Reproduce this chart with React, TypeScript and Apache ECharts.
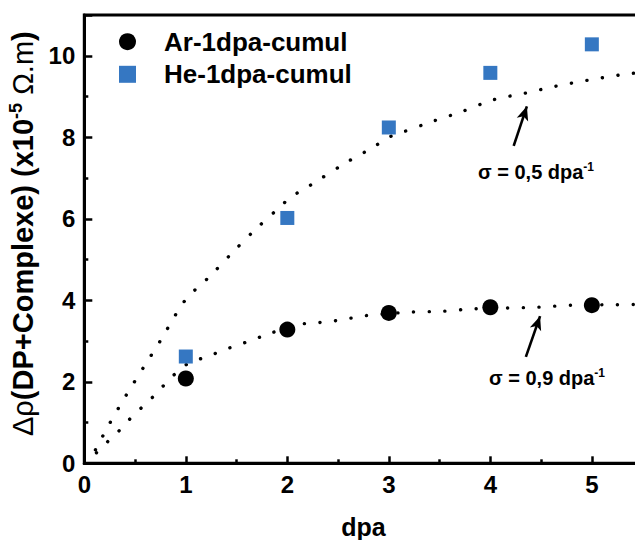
import React, { useEffect, useRef } from 'react';
import * as echarts from 'echarts';

// Measured points
const doses = [1, 2, 3, 4, 5];
const arValues = [2.08, 3.28, 3.69, 3.83, 3.88];
const heValues = [2.62, 6.02, 8.24, 9.58, 10.28];

// Dotted fit curves
const arFit: number[][] = [
  [0.12, 0.26], [0.23, 0.53], [0.34, 0.79], [0.45, 1.09], [0.57, 1.38], [0.68, 1.64],
  [0.79, 1.93], [0.91, 2.23], [1.05, 2.49], [1.21, 2.61], [1.35, 2.76], [1.5, 2.89],
  [1.65, 3.02], [1.8, 3.16], [2.09, 3.4], [2.25, 3.44], [2.42, 3.48], [2.58, 3.54],
  [2.73, 3.61], [2.89, 3.65], [3.2, 3.71], [3.52, 3.73], [3.83, 3.79], [4.16, 3.81],
  [4.47, 3.83], [4.8, 3.88], [5.18, 3.89], [5.5, 3.9],
];
const heFit: number[][] = [
  [0.11, 0.33], [0.25, 0.98], [0.41, 1.66], [0.58, 2.34], [0.75, 3.01], [0.91, 3.69],
  [1.0, 4.02], [1.11, 4.3], [1.23, 4.57], [1.44, 5.12], [1.67, 5.7], [1.91, 6.25],
  [2.04, 6.54], [2.18, 6.75], [2.32, 6.97], [2.58, 7.38], [2.85, 7.76], [2.99, 7.99],
  [3.13, 8.12], [3.42, 8.38], [3.72, 8.63], [4.03, 8.92], [4.34, 9.08], [4.64, 9.25],
  [4.96, 9.4], [5.28, 9.53], [5.5, 9.6],
];

// Annotation arrows (start -> tip), in data units
const arrowHe: number[][] = [[4.23, 7.79], [4.36, 8.76]];
const arrowAr: number[][] = [[4.35, 2.61], [4.49, 3.61]];

const seriesNames = ['Ar-1dpa-cumul', 'He-1dpa-cumul'];
const labelHe = ['σ = 0,5 dpa', '-1'];
const labelAr = ['σ = 0,9 dpa', '-1'];

const FONT = 'Liberation Sans, Arial, Helvetica, sans-serif';
const BLUE = '#3577c2';

export default function App() {
  const ref = useRef<HTMLDivElement>(null);
  useEffect(() => {
    if (!ref.current) return;
    const chart = echarts.init(ref.current, undefined, { renderer: 'svg' });
    const dotted = {
      color: '#000',
      width: 3.4,
      type: [0.1, 15.6] as number[],
      cap: 'round' as const,
    };
    const arrowLine = (pts: number[][]) => [[{ coord: pts[0] }, { coord: pts[1] }]];
    const superRich = (size: number) => ({
      a: { fontSize: size, fontWeight: 'bold', fontFamily: FONT, color: '#000' },
      s: { fontSize: size * 0.6, fontWeight: 'bold', fontFamily: FONT, color: '#000', padding: [0, 0, size * 0.55, 0] },
    });
    chart.setOption({
      animation: false,
      backgroundColor: '#fff',
      grid: {
        left: 84.3,
        top: 15,
        width: 558.3,
        height: 448.3,
        show: true,
        borderColor: '#000',
        borderWidth: 3,
        containLabel: false,
        outerBoundsMode: 'none',
      },
      legend: {
        orient: 'vertical',
        left: 119,
        top: 28.7,
        padding: 0,
        itemGap: 6.6,
        itemWidth: 17,
        itemHeight: 17,
        data: [
          { name: seriesNames[0], icon: 'circle', itemStyle: { color: '#000', opacity: 1 } },
          { name: seriesNames[1], icon: 'rect', itemStyle: { color: BLUE, opacity: 1 } },
        ],
        textStyle: {
          fontFamily: FONT,
          fontWeight: 'bold',
          fontSize: 26,
          color: '#000',
          lineHeight: 26,
          padding: [0, 0, 0, 23],
        },
      },
      xAxis: {
        type: 'value',
        min: 0,
        max: 5.5,
        interval: 1,
        name: 'dpa',
        nameLocation: 'middle',
        nameGap: 51,
        nameTextStyle: { fontFamily: FONT, fontWeight: 'bold', fontSize: 25, color: '#000' },
        axisLine: { show: true, onZero: false, lineStyle: { color: '#000', width: 3 } },
        axisTick: { show: true, inside: true, length: 7, lineStyle: { color: '#000', width: 2.5 } },
        minorTick: { show: true, splitNumber: 2, length: 4, lineStyle: { color: '#000', width: 2.5 } },
        splitLine: { show: false },
        axisLabel: {
          showMaxLabel: false,
          margin: 9,
          fontFamily: FONT,
          fontWeight: 'bold',
          fontSize: 24,
          color: '#000',
        },
      },
      yAxis: {
        type: 'value',
        min: 0,
        max: 11,
        interval: 2,
        name: '{g|Δρ}{b|(DP+Complexe) (x10}{s|-5}{g| Ω.m}{b|)}',
        nameLocation: 'middle',
        nameGap: 35,
        nameTextStyle: {
          color: '#000',
          padding: [0, 0, 0, 11],
          rich: {
            g: { fontFamily: FONT, fontWeight: 'normal', fontSize: 29, color: '#000' },
            b: { fontFamily: FONT, fontWeight: 'bold', fontSize: 29, color: '#000' },
            s: { fontFamily: FONT, fontWeight: 'bold', fontSize: 18, color: '#000', padding: [0, 0, 15, 0] },
          },
        },
        axisLine: { show: true, onZero: false, lineStyle: { color: '#000', width: 3 } },
        axisTick: { show: true, inside: true, length: 8, lineStyle: { color: '#000', width: 2.5 } },
        minorTick: { show: true, splitNumber: 2, length: 4, lineStyle: { color: '#000', width: 2.5 } },
        splitLine: { show: false },
        axisLabel: {
          showMaxLabel: false,
          margin: 9,
          fontFamily: FONT,
          fontWeight: 'bold',
          fontSize: 24,
          color: '#000',
        },
      },
      series: [
        {
          name: 'fitHe',
          type: 'line',
          data: heFit,
          smooth: 0.3,
          showSymbol: false,
          silent: true,
          lineStyle: dotted,
          markLine: {
            silent: true,
            symbol: ['none', 'arrow'],
            symbolSize: [9, 14],
            label: { show: false },
            lineStyle: { color: '#000', width: 2.6, type: 'solid' },
            data: arrowLine(arrowHe),
          },
          z: 2,
        },
        {
          name: 'fitAr',
          type: 'line',
          data: arFit,
          smooth: 0.3,
          showSymbol: false,
          silent: true,
          lineStyle: dotted,
          markLine: {
            silent: true,
            symbol: ['none', 'arrow'],
            symbolSize: [9, 14],
            label: { show: false },
            lineStyle: { color: '#000', width: 2.6, type: 'solid' },
            data: arrowLine(arrowAr),
          },
          z: 2,
        },
        {
          name: seriesNames[0],
          type: 'scatter',
          data: doses.map((d, i) => [d, arValues[i]]),
          symbol: 'circle',
          symbolSize: 16,
          itemStyle: { color: '#000', opacity: 1 },
          z: 5,
        },
        {
          name: seriesNames[1],
          type: 'scatter',
          data: doses.map((d, i) => [d, heValues[i]]),
          symbol: 'rect',
          symbolSize: 14,
          itemStyle: { color: BLUE, opacity: 1 },
          z: 5,
        },
      ],
      graphic: [
        {
          type: 'text',
          x: 536,
          y: 172,
          style: {
            text: `{a|${labelHe[0]}}{s|${labelHe[1]}}`,
            rich: superRich(20),
            align: 'center',
            verticalAlign: 'middle',
          },
        },
        {
          type: 'text',
          x: 547,
          y: 378,
          style: {
            text: `{a|${labelAr[0]}}{s|${labelAr[1]}}`,
            rich: superRich(20),
            align: 'center',
            verticalAlign: 'middle',
          },
        },
      ],
    });
    return () => chart.dispose();
  }, []);
  return (
    <div
      ref={ref}
      style={{ position: 'fixed', left: 0, top: 0, width: 635, height: 540, background: '#fff' }}
    />
  );
}
